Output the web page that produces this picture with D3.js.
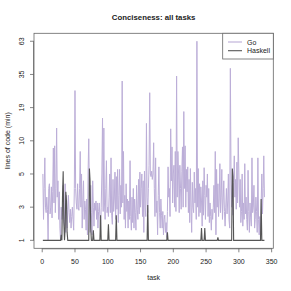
<!DOCTYPE html>
<html>
<head>
<meta charset="utf-8">
<script src="https://cdn.jsdelivr.net/npm/d3@7"></script>
<style>
  body { margin: 0; background: #fff; }
  text { font-family: "Liberation Sans", Arial, sans-serif; fill: #222; }
</style>
</head>
<body>
<div id="chart"></div>
<script>
// lines of code per task (min), Go, tasks 1..339
var goLoc = [
	5, 2, 4, 7, 3, 2.5, 3.5, 2.8, 1, 4,
	4.3, 2.4, 3, 4.1, 2.1, 3.8, 8.6, 3.2, 9, 2.5,
	4, 12.8, 3.5, 4.5, 2, 3.8, 1.5, 1, 3, 2,
	2.5, 4.2, 2, 1.6, 4.3, 1.3, 3.6, 1.5, 2.8, 3.6,
	2.5, 1.8, 2.8, 1.5, 2.2, 3, 2, 1.4, 4, 26,
	4, 3.2, 2.8, 4.3, 3, 2.7, 4, 8, 3, 5,
	1.5, 3.3, 4.5, 2, 3.3, 2.8, 1.4, 3.4, 1.2, 5.2,
	10.4, 3.6, 1.3, 4.2, 2.5, 1.2, 4.5, 3, 1.6, 3.2,
	2.7, 3.3, 2, 3.2, 1.5, 2.6, 3.2, 2.2, 1.3, 3,
	5, 15.5, 2.6, 12.8, 3.2, 2, 4, 6.6, 2.5, 3,
	2.2, 3.5, 5, 2.5, 7, 2.3, 1.7, 4.6, 2.6, 3.4,
	5.2, 2, 4.8, 2.8, 5.5, 1.8, 3.6, 5.5, 2.4, 4.2,
	3, 31, 3.2, 8, 2, 3.6, 1.5, 4.3, 2.6, 3.4,
	1.5, 3.3, 2, 6.6, 2.2, 1.4, 3.5, 1.8, 4, 1.5,
	3.4, 2.5, 1.4, 4.2, 2.8, 2, 4.6, 2.4, 5.2, 3,
	4, 5, 2.2, 4.5, 1.3, 5.3, 3, 2.2, 14, 3.5,
	2.5, 4, 6, 25, 5, 4.8, 5.3, 4.6, 5, 9.6,
	4, 2.2, 7, 2.5, 3.3, 1.2, 3.6, 5.8, 2.5, 1.5,
	3.4, 2.3, 1.5, 2.6, 1.2, 2, 2.3, 1.3, 1.8, 1.1,
	2.6, 5.8, 3.5, 4, 2.2, 12.6, 4.5, 8.8, 3.2, 5,
	6, 3, 8, 2.6, 34, 3.5, 8, 5, 2.5, 6,
	4, 2.8, 5.3, 8.8, 3, 17.6, 4, 9, 3, 5.5,
	3.8, 5.8, 2.5, 4.6, 1.8, 5.6, 3, 1.3, 4.4, 3,
	2.5, 5.2, 3.2, 4, 2, 63, 3, 5.6, 2.2, 4.3,
	2.5, 4.1, 3.3, 1.6, 4.5, 2.3, 5.7, 3.6, 2, 4.2,
	3.5, 5, 2.2, 4, 1.8, 3.2, 2.2, 1.4, 2.8, 2,
	3, 4.2, 2.5, 8, 1.2, 5.5, 3, 4.3, 2.2, 3.4,
	6.2, 2.5, 3.5, 5.5, 2, 3.3, 4.5, 2.6, 1.6, 3,
	4, 2.4, 3.3, 5, 2, 1.5, 39, 5, 3, 4.2,
	2.3, 4.4, 7.3, 3.5, 4.6, 2.8, 6.4, 3.2, 10.6, 5.2,
	3, 4.6, 1.8, 2.6, 5, 1.6, 3.2, 2, 6.2, 2.4,
	3.5, 2, 1.4, 5.4, 2.6, 1.3, 3.2, 2.1, 1.6, 7,
	2.5, 3, 4.2, 1.5, 2, 3.5, 2.6, 1.3, 7, 2,
	1.2, 2.2, 1, 3.2, 5, 2.4, 4, 7.3, 3.5
];

// Haskell sits at 1 except on these tasks
var haskellTask = [29, 31, 32, 33, 35, 36, 37, 38, 72, 73, 74, 78, 89, 101, 113, 161, 191, 243, 248, 268, 290, 291, 334];
var haskellLoc  = [1.2, 3.6, 5.3, 1.8, 1.5, 3.8, 3.3, 1.3, 5.6, 4.5, 1.5, 1.4, 2.3, 1.7, 2.3, 3.1, 1.3, 1.5, 1.5, 1.1, 5.6, 4.8, 3.4];

var yTicks = [1, 3, 5, 10, 19, 35, 63];
var xTicks = [0, 50, 100, 150, 200, 250, 300, 350];
var series = ["Go", "Haskell"];
var colors = ["#bcaed8", "#555555"];

var width = 291, height = 291;
var plot = {left: 34, right: 273.3, top: 33.3, bottom: 248.3};

var svg = d3.select("#chart").append("svg").attr("width", width).attr("height", height);

var tasks = goLoc.map(function(d, i) { return i + 1; });
var hasMap = {};
for (var i = 0; i < haskellTask.length; i++) { hasMap[haskellTask[i]] = haskellLoc[i]; }
var goData = tasks.map(function(t, i) { return [t, goLoc[i]]; });
var hsData = tasks.map(function(t) { return [t, hasMap[t] || 1]; });

// R style 4% padding on both axes
var n = tasks.length;
var xpad = (n - 1) * 0.04;
var x = d3.scaleLinear().domain([1 - xpad, n + xpad]).range([plot.left, plot.right]);

// ticks are evenly spaced; map values through a piecewise log onto the tick levels
var level = d3.scaleLog().domain(yTicks).range(yTicks.map(function(d, i) { return i; }));
var ypad = (yTicks.length - 1) * 0.04;
var yPix = d3.scaleLinear().domain([-ypad, yTicks.length - 1 + ypad]).range([plot.bottom, plot.top]);
function y(v) { return yPix(level(v)); }

var line = d3.line().x(function(d) { return x(d[0]); }).y(function(d) { return y(d[1]); });

svg.append("path").datum(goData)
	.attr("d", line)
	.style("fill", "none")
	.style("stroke", colors[0])
	.style("stroke-width", 1);

svg.append("path").datum(hsData)
	.attr("d", line)
	.style("fill", "none")
	.style("stroke", colors[1])
	.style("stroke-width", 1.1);

// frame
svg.append("rect")
	.attr("x", plot.left).attr("y", plot.top)
	.attr("width", plot.right - plot.left).attr("height", plot.bottom - plot.top)
	.style("fill", "none").style("stroke", "#666").style("stroke-width", 0.8);

// x axis
var gx = svg.append("g");
gx.append("line")
	.attr("x1", x(xTicks[0])).attr("x2", x(xTicks[xTicks.length - 1]))
	.attr("y1", plot.bottom + 0.5).attr("y2", plot.bottom + 0.5)
	.style("stroke", "#666").style("stroke-width", 0.8);
xTicks.forEach(function(t) {
	gx.append("line")
		.attr("x1", x(t)).attr("x2", x(t))
		.attr("y1", plot.bottom).attr("y2", plot.bottom + 4)
		.style("stroke", "#666").style("stroke-width", 0.8);
	gx.append("text")
		.attr("x", x(t)).attr("y", 263.5)
		.attr("text-anchor", "middle")
		.attr("font-size", "7px")
		.text(t);
});

// y axis
var gy = svg.append("g");
gy.append("line")
	.attr("x1", plot.left - 0.5).attr("x2", plot.left - 0.5)
	.attr("y1", y(yTicks[0])).attr("y2", y(yTicks[yTicks.length - 1]))
	.style("stroke", "#666").style("stroke-width", 0.8);
yTicks.forEach(function(t) {
	gy.append("line")
		.attr("x1", plot.left - 4).attr("x2", plot.left)
		.attr("y1", y(t)).attr("y2", y(t))
		.style("stroke", "#666").style("stroke-width", 0.8);
	gy.append("text")
		.attr("transform", "translate(24," + y(t) + ") rotate(-90)")
		.attr("text-anchor", "middle")
		.attr("font-size", "7px")
		.text(t);
});

// titles
svg.append("text")
	.attr("x", (plot.left + plot.right) / 2).attr("y", 20)
	.attr("text-anchor", "middle")
	.attr("font-size", "7.8px")
	.attr("font-weight", "bold")
	.text("Conciseness: all tasks");

svg.append("text")
	.attr("x", (plot.left + plot.right) / 2).attr("y", 280)
	.attr("text-anchor", "middle")
	.attr("font-size", "7px")
	.text("task");

svg.append("text")
	.attr("transform", "translate(10," + ((plot.top + plot.bottom) / 2) + ") rotate(-90)")
	.attr("text-anchor", "middle")
	.attr("font-size", "7px")
	.text("lines of code (min)");

// legend
var leg = svg.append("g");
leg.append("rect")
	.attr("x", 222.7).attr("y", plot.top)
	.attr("width", plot.right - 222.7).attr("height", 25.7)
	.style("fill", "#fff").style("stroke", "#666").style("stroke-width", 0.8);
series.forEach(function(s, i) {
	var ly = 42 + i * 8.7;
	leg.append("line")
		.attr("x1", 228).attr("x2", 242)
		.attr("y1", ly).attr("y2", ly)
		.style("stroke", colors[i]).style("stroke-width", 1.1);
	leg.append("text")
		.attr("x", 247).attr("y", ly + 2.5)
		.attr("font-size", "7px")
		.text(s);
});
</script>
</body>
</html>
